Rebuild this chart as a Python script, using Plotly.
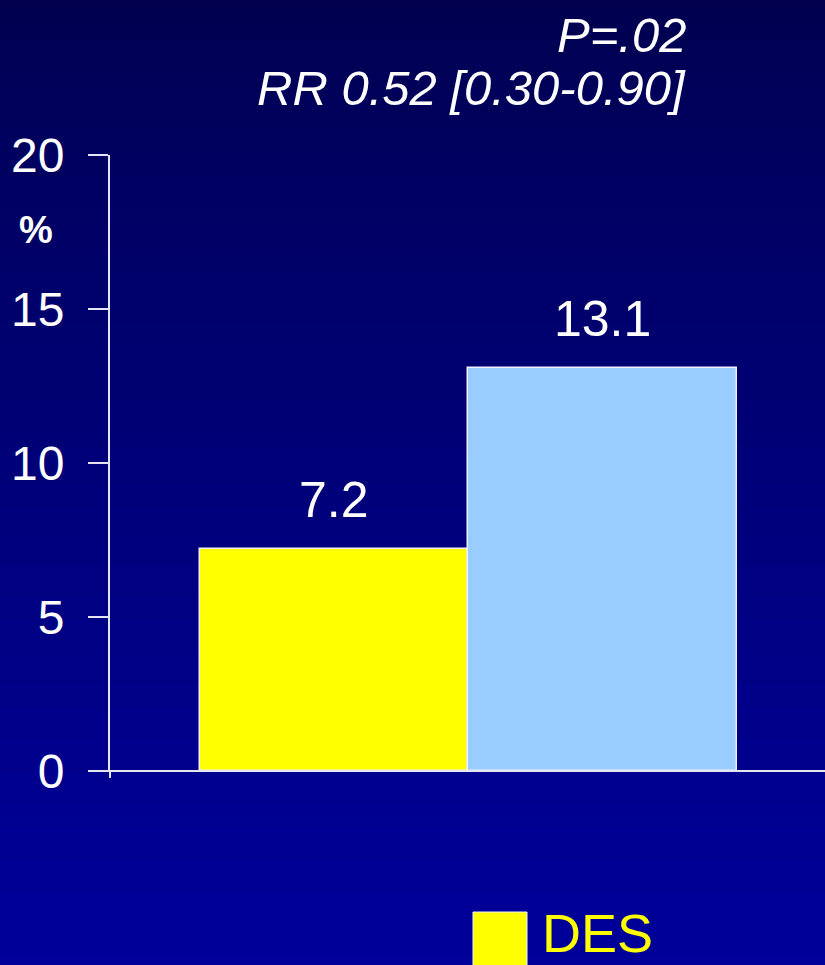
import plotly.graph_objects as go

# Data
groups = ["DES", "BMS"]
rates = [7.2, 13.1]
bar_colors = ["#FFFF00", "#99CCFF"]
y_ticks = [0, 5, 10, 15, 20]
p_text = "P=.02"
rr_text = "RR 0.52 [0.30-0.90]"

FONT = "Liberation Sans, Arial, sans-serif"
W, H = 825, 965
M_L, M_R, M_T, M_B = 110, 0, 155, 194
plot_h = H - M_T - M_B
plot_w = W - M_L - M_R


def px_to_paper_y(py):
    return (H - M_B - py) / plot_h


def px_to_paper_x(px):
    return (px - M_L) / plot_w


fig = go.Figure()

for i, (g, v, c) in enumerate(zip(groups, rates, bar_colors)):
    fig.add_trace(go.Bar(
        x=[i], y=[v], name=g, width=1.0,
        marker=dict(color=c, line=dict(color="#F0F0FF", width=1.5)),
        showlegend=False, hoverinfo="skip",
    ))
    fig.add_annotation(
        x=i, y=v, text=f"{v:.1f}", showarrow=False,
        xref="x", yref="y", yanchor="middle", yshift=49,
        font=dict(family=FONT, size=50, color="white"),
    )

# Vertical background gradient built from thin strips
shapes = []
n = 120
for k in range(n):
    t0, t1 = k / n, (k + 1) / n
    tm = (t0 + t1) / 2
    b = 78 + 76 * (tm ** 0.8)
    shapes.append(dict(
        type="rect", xref="paper", yref="paper", layer="below",
        x0=px_to_paper_x(0), x1=px_to_paper_x(W) + 0.01,
        y0=px_to_paper_y(t1 * H) - 0.002, y1=px_to_paper_y(t0 * H),
        fillcolor=f"rgb(0,0,{int(round(b))})", line=dict(width=0),
    ))

axis_col = "#E4E4F4"
# y-axis line runs a little below zero
shapes.append(dict(type="line", xref="paper", yref="paper",
                   x0=0, x1=0, y0=px_to_paper_y(778), y1=0,
                   line=dict(color=axis_col, width=2)))

# Legend swatch for DES
shapes.append(dict(type="rect", xref="paper", yref="paper",
                   x0=px_to_paper_x(473), x1=px_to_paper_x(527),
                   y0=px_to_paper_y(975), y1=px_to_paper_y(912),
                   fillcolor="#FFFF00", line=dict(color="#F0F0FF", width=1)))

fig.add_annotation(text="DES", xref="paper", yref="paper",
                   x=px_to_paper_x(540), y=px_to_paper_y(933),
                   xanchor="left", yanchor="middle", showarrow=False,
                   font=dict(family=FONT, size=54, color="#FFFF00"))

fig.add_annotation(text=f"<i>{p_text}</i>", xref="paper", yref="paper",
                   x=px_to_paper_x(688), y=px_to_paper_y(35),
                   xanchor="right", yanchor="middle", showarrow=False,
                   font=dict(family=FONT, size=49, color="white"))
fig.add_annotation(text=f"<i>{rr_text}</i>", xref="paper", yref="paper",
                   x=px_to_paper_x(688), y=px_to_paper_y(88),
                   xanchor="right", yanchor="middle", showarrow=False,
                   font=dict(family=FONT, size=49, color="white"))
fig.add_annotation(text="<b>%</b>", xref="paper", yref="paper",
                   x=px_to_paper_x(36), y=px_to_paper_y(230),
                   xanchor="center", yanchor="middle", showarrow=False,
                   font=dict(family=FONT, size=38, color="white"))

fig.update_layout(
    width=W, height=H,
    margin=dict(l=M_L, r=M_R, t=M_T, b=M_B, pad=0),
    paper_bgcolor="#000080",
    plot_bgcolor="rgba(0,0,0,0)",
    barmode="group", bargap=0, bargroupgap=0,
    shapes=shapes,
    xaxis=dict(range=[-0.834, 1.829], showticklabels=False, ticks="",
               showgrid=False, zeroline=False, showline=False, fixedrange=True),
    yaxis=dict(range=[0, 20], tickvals=y_ticks, ticks="outside", ticklen=20,
               tickwidth=2, tickcolor=axis_col, showline=True, linecolor=axis_col,
               linewidth=2, showgrid=False, zeroline=False, ticklabelstandoff=14,
               tickfont=dict(family=FONT, size=48, color="white"), fixedrange=True),
    showlegend=False,
)

# x-axis baseline extending from the zero tick to the right edge
fig.add_shape(type="line", xref="paper", yref="paper",
              x0=px_to_paper_x(90), x1=1.0, y0=0, y1=0,
              line=dict(color=axis_col, width=2))

fig.write_html("out.html")
